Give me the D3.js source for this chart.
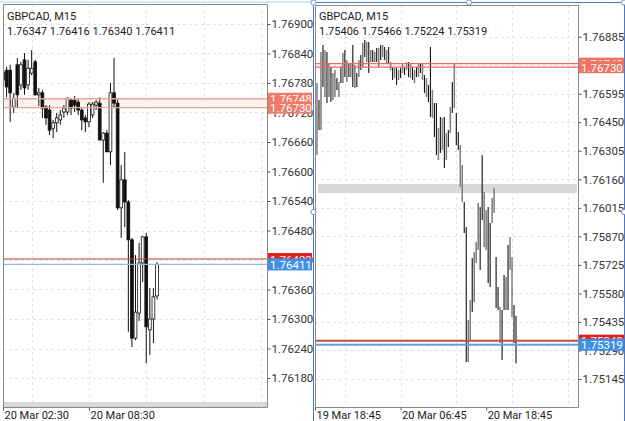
<!DOCTYPE html>
<html><head><meta charset="utf-8">
<script src="https://cdn.jsdelivr.net/npm/d3@7"></script>
<style>
html,body{margin:0;padding:0;background:#fff;}
svg{display:block;font-family:Roboto,"Noto Sans",sans-serif;}
</style></head><body>
<svg id="chart" width="625" height="421"></svg>
<script>
// ---------------- DATA ----------------
const symbolTitle = "GBPCAD, M15";

// Left panel (20 Mar), 44 M15 bars
const leftOpen  = [1.76786,1.76806,1.76806,1.76731,1.76817,1.76776,1.76827,1.76776,1.76800,1.76823,1.76756,1.76760,1.76731,1.76725,1.76688,1.76699,1.76705,1.76721,1.76721,1.76745,1.76745,1.76741,1.76725,1.76709,1.76701,1.76715,1.76735,1.76739,1.76664,1.76678,1.76640,1.76760,1.76739,1.76526,1.76583,1.76538,1.76461,1.76261,1.76312,1.76414,1.76467,1.76278,1.76300,1.76347];
const leftHigh  = [1.76810,1.76813,1.76817,1.76760,1.76831,1.76823,1.76841,1.76827,1.76847,1.76827,1.76770,1.76766,1.76735,1.76735,1.76705,1.76719,1.76725,1.76735,1.76751,1.76749,1.76754,1.76749,1.76729,1.76715,1.76741,1.76741,1.76745,1.76751,1.76680,1.76684,1.76780,1.76831,1.76749,1.76613,1.76640,1.76542,1.76465,1.76430,1.76455,1.76469,1.76475,1.76363,1.76363,1.76416];
const leftLow   = [1.76770,1.76751,1.76701,1.76719,1.76731,1.76766,1.76756,1.76766,1.76796,1.76754,1.76733,1.76709,1.76695,1.76674,1.76668,1.76680,1.76695,1.76709,1.76715,1.76715,1.76721,1.76715,1.76684,1.76680,1.76690,1.76709,1.76725,1.76664,1.76577,1.76640,1.76613,1.76731,1.76522,1.76465,1.76487,1.76274,1.76243,1.76257,1.76296,1.76375,1.76210,1.76227,1.76251,1.76340];
const leftClose = [1.76802,1.76772,1.76760,1.76749,1.76756,1.76817,1.76770,1.76810,1.76810,1.76756,1.76760,1.76729,1.76709,1.76684,1.76699,1.76709,1.76715,1.76729,1.76749,1.76729,1.76735,1.76725,1.76705,1.76701,1.76737,1.76737,1.76741,1.76664,1.76678,1.76640,1.76760,1.76739,1.76526,1.76583,1.76538,1.76461,1.76261,1.76314,1.76414,1.76467,1.76284,1.76300,1.76345,1.76411];
const leftYTicks = [1.76900,1.76840,1.76780,1.76720,1.76660,1.76600,1.76540,1.76480,1.76420,1.76360,1.76300,1.76240,1.76180];
const leftXTickIdx = [0, 24];
const leftXTickLabels = ["20 Mar 02:30", "20 Mar 08:30"];
const leftGridIdx = [8, 24, 40, 56, 72];
const leftOHLCText = "1.76347 1.76416 1.76340 1.76411";

// Right panel (19-20 Mar), 101 M15 bars
const rightOpen  = [1.76309,1.76548,1.76436,1.76817,1.76604,1.76792,1.76589,1.76726,1.76578,1.76599,1.76665,1.76604,1.76726,1.76665,1.76802,1.76675,1.76741,1.76690,1.76817,1.76639,1.76690,1.76690,1.76782,1.76741,1.76853,1.76782,1.76843,1.76756,1.76807,1.76767,1.76817,1.76751,1.76833,1.76792,1.76828,1.76767,1.76817,1.76726,1.76726,1.76680,1.76716,1.76675,1.76716,1.76716,1.76726,1.76726,1.76751,1.76690,1.76726,1.76665,1.76726,1.76690,1.76741,1.76680,1.76680,1.76589,1.76629,1.76792,1.76487,1.76538,1.76538,1.76273,1.76472,1.76324,1.76472,1.76273,1.76395,1.76411,1.76639,1.76538,1.76487,1.76395,1.76131,1.76055,1.76040,1.75902,1.75242,1.75353,1.75750,1.75547,1.75750,1.75816,1.76004,1.76273,1.75826,1.75816,1.76004,1.75928,1.75953,1.76004,1.75760,1.75597,1.75343,1.75486,1.75664,1.75506,1.75816,1.75709,1.75470,1.75511,1.75406];
const rightHigh  = [1.76650,1.76563,1.76807,1.76843,1.76817,1.76807,1.76751,1.76731,1.76700,1.76716,1.76675,1.76655,1.76731,1.76802,1.76817,1.76767,1.76751,1.76751,1.76843,1.76741,1.76700,1.76767,1.76792,1.76853,1.76868,1.76858,1.76858,1.76817,1.76817,1.76807,1.76828,1.76828,1.76843,1.76843,1.76833,1.76817,1.76833,1.76756,1.76731,1.76726,1.76726,1.76716,1.76726,1.76751,1.76731,1.76756,1.76756,1.76751,1.76731,1.76716,1.76731,1.76751,1.76751,1.76751,1.76690,1.76675,1.76639,1.76833,1.76614,1.76548,1.76548,1.76421,1.76477,1.76472,1.76477,1.76395,1.76411,1.76528,1.76655,1.76751,1.76497,1.76400,1.76334,1.76233,1.76045,1.75918,1.75445,1.75547,1.75760,1.75791,1.75841,1.76040,1.76019,1.76284,1.76096,1.76004,1.76019,1.75938,1.76065,1.76116,1.75765,1.75613,1.75511,1.75496,1.75674,1.75664,1.75826,1.75867,1.75765,1.75521,1.75466];
const rightLow   = [1.76284,1.76411,1.76411,1.76629,1.76578,1.76548,1.76578,1.76553,1.76563,1.76578,1.76614,1.76578,1.76650,1.76650,1.76680,1.76655,1.76680,1.76680,1.76629,1.76624,1.76629,1.76680,1.76716,1.76731,1.76782,1.76756,1.76700,1.76756,1.76756,1.76756,1.76756,1.76731,1.76767,1.76782,1.76767,1.76751,1.76751,1.76716,1.76665,1.76675,1.76639,1.76665,1.76675,1.76700,1.76690,1.76716,1.76680,1.76675,1.76665,1.76650,1.76680,1.76680,1.76700,1.76665,1.76599,1.76578,1.76553,1.76477,1.76472,1.76375,1.76284,1.76258,1.76294,1.76309,1.76218,1.76258,1.76324,1.76395,1.76497,1.76523,1.76334,1.76309,1.76121,1.76045,1.75887,1.75231,1.75231,1.75343,1.75486,1.75536,1.75735,1.75801,1.75699,1.75953,1.75816,1.75801,1.75633,1.75613,1.75938,1.75989,1.75506,1.75496,1.75328,1.75242,1.75496,1.75496,1.75496,1.75699,1.75460,1.75328,1.75224];
const rightClose = [1.76624,1.76421,1.76782,1.76665,1.76792,1.76563,1.76731,1.76563,1.76690,1.76700,1.76614,1.76650,1.76655,1.76792,1.76690,1.76756,1.76690,1.76741,1.76639,1.76726,1.76639,1.76756,1.76726,1.76843,1.76792,1.76843,1.76716,1.76807,1.76756,1.76802,1.76756,1.76817,1.76782,1.76833,1.76782,1.76807,1.76767,1.76751,1.76675,1.76716,1.76650,1.76700,1.76680,1.76741,1.76700,1.76751,1.76690,1.76741,1.76675,1.76700,1.76690,1.76741,1.76716,1.76741,1.76604,1.76665,1.76563,1.76487,1.76604,1.76385,1.76294,1.76411,1.76309,1.76462,1.76233,1.76385,1.76334,1.76512,1.76512,1.76741,1.76360,1.76324,1.76324,1.76218,1.75902,1.75242,1.75420,1.75536,1.75496,1.75775,1.75826,1.76030,1.75709,1.75963,1.76080,1.75989,1.75648,1.75623,1.76055,1.76106,1.75521,1.75506,1.75496,1.75252,1.75506,1.75648,1.75511,1.75852,1.75750,1.75343,1.75319];
const rightYTicks = [1.76885,1.76740,1.76595,1.76450,1.76305,1.76160,1.76015,1.75870,1.75725,1.75580,1.75435,1.75290,1.75145];
const rightXTickIdx = [-1, 42, 85];
const rightXTickLabels = ["19 Mar 18:45", "20 Mar 06:45", "20 Mar 18:45"];
const rightGridIdx = [14, 42, 70, 98, 126];
const rightOHLCText = "1.75406 1.75466 1.75224 1.75319";

// Price levels
const leftLevels  = [1.76748, 1.76730, 1.76422, 1.76411];
const rightLevels = [1.76748, 1.76730, 1.75340, 1.75319];

// ---------------- DRAW ----------------
const svg = d3.select("#chart");
const FONT = "Roboto, 'Noto Sans', sans-serif";

svg.append("line").attr("x1",0).attr("x2",313).attr("y1",2).attr("y2",2)
  .attr("stroke","#b4cdef").attr("stroke-width",1.2);

function drawPanel(p) {
  const g = svg.append("g");
  const x = d3.scaleLinear().domain(p.xDomain).range(p.xRange);
  const y = d3.scaleLinear().domain(p.yDomain).range(p.yRange);
  const clipId = "clip" + p.id;
  svg.append("defs").append("clipPath").attr("id", clipId)
    .append("rect").attr("x", p.left).attr("y", p.top)
    .attr("width", p.right - p.left).attr("height", p.bottom - p.top);

  const grid = g.append("g").attr("clip-path", `url(#${clipId})`);
  grid.selectAll("line.h").data(p.yTicks).join("line")
    .attr("x1", p.left).attr("x2", p.right)
    .attr("y1", d => Math.round(y(d)) + 0.5).attr("y2", d => Math.round(y(d)) + 0.5)
    .attr("stroke", "#e4e4e4").attr("stroke-dasharray", "3,3");
  grid.selectAll("line.v").data(p.gridIdx).join("line")
    .attr("x1", d => Math.round(x(d)) + 0.5).attr("x2", d => Math.round(x(d)) + 0.5)
    .attr("y1", p.top).attr("y2", p.bottom)
    .attr("stroke", "#e4e4e4").attr("stroke-dasharray", "3,3");

  g.append("rect").attr("x", p.band[0]).attr("y", p.band[1])
    .attr("width", p.band[2]).attr("height", p.band[3]).attr("fill", "#d8d8d8");

  const lv = p.levels;
  if (p.alertFill) {
    g.append("rect").attr("x", p.left).attr("width", p.right - p.left)
      .attr("y", y(lv[0])).attr("height", y(lv[1]) - y(lv[0]))
      .attr("fill", "#fcf4ea");
  }

  const data = p.open.map((o, i) => ({i, o, h: p.high[i], l: p.low[i], c: p.close[i]}));
  const cg = g.append("g").attr("clip-path", `url(#${clipId})`);
  if (p.style === "candle") {
    cg.selectAll("line.w").data(data).join("line")
      .attr("x1", d => x(d.i)).attr("x2", d => x(d.i))
      .attr("y1", d => y(d.h)).attr("y2", d => y(d.l))
      .attr("stroke", "#111").attr("stroke-width", 1);
    cg.selectAll("rect.b").data(data).join("rect")
      .attr("x", d => x(d.i) - 1.4).attr("width", 2.8)
      .attr("y", d => y(Math.max(d.o, d.c)))
      .attr("height", d => Math.max(1, Math.abs(y(d.o) - y(d.c))))
      .attr("fill", d => d.c >= d.o ? "#fff" : "#111")
      .attr("stroke", "#111").attr("stroke-width", 0.8);
  } else {
    cg.selectAll("line.w").data(data).join("line")
      .attr("x1", d => x(d.i)).attr("x2", d => x(d.i))
      .attr("y1", d => y(d.h)).attr("y2", d => y(d.l))
      .attr("stroke", d => d.c >= d.o ? "#7c7c7c" : "#111")
      .attr("stroke-width", d => d.c >= d.o ? 1.5 : 1.1);
  }

  g.selectAll("line.lv").data(lv).join("line")
    .attr("x1", p.left).attr("x2", p.right)
    .attr("y1", d => y(d)).attr("y2", d => y(d))
    .attr("stroke", (d, i) => p.lineColors[i])
    .attr("stroke-width", (d, i) => p.lineWidths[i]);

  g.append("path")
    .attr("d", `M${p.left+0.5},${p.bottom+0.5}V${p.top+0.5}H${p.right+0.5}V${p.bottom+0.5}Z`)
    .attr("fill", "none").attr("stroke", "#8a8a8a").attr("stroke-width", 1);

  const ya = g.append("g").attr("transform", `translate(${p.right+0.5},0)`);
  ya.call(d3.axisRight(y).tickValues(p.yTicks).tickSize(3).tickPadding(1)
      .tickFormat(d3.format(".5f")));
  ya.select(".domain").remove();
  ya.selectAll("line").attr("stroke", "#555");
  ya.selectAll("text").attr("font-family", FONT).attr("font-size", 11.5)
    .attr("fill", "#333");

  const xa = g.append("g").attr("transform", `translate(0,${p.bottom+0.5})`);
  xa.call(d3.axisBottom(x).tickValues(p.xTickIdx).tickSize(3).tickPadding(1)
      .tickFormat((d, i) => p.xTickLabels[i]));
  xa.select(".domain").remove();
  xa.selectAll("line").attr("stroke", "#555");
  xa.selectAll("text").attr("font-family", FONT).attr("font-size", 11)
    .attr("fill", "#222").attr("text-anchor", "start").attr("dx", "1");

  const boxes = g.append("g");
  lv.forEach((v, i) => {
    const yy = y(v);
    boxes.append("rect").attr("x", p.right + 1).attr("y", yy - 6)
      .attr("width", p.boxW).attr("height", 12).attr("fill", p.boxColors[i]);
    boxes.append("text").attr("x", p.right + 3).attr("y", yy + 4.5)
      .attr("font-family", FONT).attr("font-size", 11.5).attr("fill", "#fff")
      .text(d3.format(".5f")(v));
  });

  g.append("text").attr("x", p.left + 4).attr("y", 19.5)
    .attr("font-family", FONT).attr("font-size", 11).attr("fill", "#222")
    .text(symbolTitle);
  g.append("text").attr("x", p.left + 4).attr("y", 34.5)
    .attr("font-family", FONT).attr("font-size", 11).attr("fill", "#222")
    .text(p.ohlcText);
}

drawPanel({
  id: "L", left: 3, right: 267, top: 4, bottom: 407,
  xDomain: [0, 43], xRange: [3, 157],
  yDomain: [1.76900, 1.76180], yRange: [24, 378],
  open: leftOpen, high: leftHigh, low: leftLow, close: leftClose,
  yTicks: leftYTicks, xTickIdx: leftXTickIdx, xTickLabels: leftXTickLabels,
  gridIdx: leftGridIdx, style: "candle",
  band: [3, 402, 264, 5],
  levels: leftLevels, alertFill: true,
  lineColors: ["#e9a59c", "#e9a59c", "#c83a3a", "#8dbbd9"],
  lineWidths: [1.4, 1.4, 1.2, 1.2],
  boxColors: ["#f07a68", "#f07a68", "#e5201e", "#3f8fe6"],
  boxW: 44, ohlcText: leftOHLCText
});

drawPanel({
  id: "R", left: 315, right: 578, top: 5, bottom: 407,
  xDomain: [0, 100], xRange: [317, 516],
  yDomain: [1.76885, 1.75145], yRange: [36.7, 379],
  open: rightOpen, high: rightHigh, low: rightLow, close: rightClose,
  yTicks: rightYTicks, xTickIdx: rightXTickIdx, xTickLabels: rightXTickLabels,
  gridIdx: rightGridIdx, style: "bar",
  band: [318, 184, 259, 9],
  levels: rightLevels, alertFill: false,
  lineColors: ["#ef6a52", "#ef6a52", "#c94848", "#5ea3e3"],
  lineWidths: [1.2, 1.2, 2, 2],
  boxColors: ["#f07362", "#f07362", "#e5201e", "#3f8fe6"],
  boxW: 47, ohlcText: rightOHLCText
});

svg.append("path").attr("d", "M313.5,421V2.5H624.5V421")
  .attr("fill", "none").attr("stroke", "#4a78c8").attr("stroke-width", 1);
const handles = [[313.5, 2.5], [469, 2.5], [624, 2.5], [313.5, 212], [624, 212]];
svg.selectAll("circle.h").data(handles).join("circle")
  .attr("cx", d => d[0]).attr("cy", d => d[1]).attr("r", 2.6)
  .attr("fill", "#fff").attr("stroke", "#6f93cf").attr("stroke-width", 1);
</script>
</body></html>
